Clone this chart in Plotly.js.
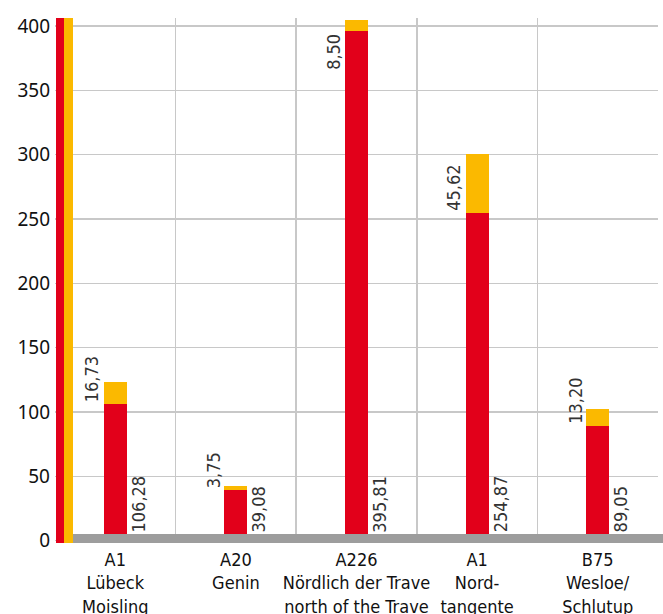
<!DOCTYPE html>
<html><head><meta charset="utf-8">
<script src="https://cdn.plot.ly/plotly-3.0.1.min.js"></script>
<style>html,body{margin:0;padding:0;background:#fff}#chart{width:663px;height:614px}</style>
</head><body><div id="chart"></div>
<script>
const categories = ["A1<br>Lübeck<br>Moisling", "A20<br>Genin", "A226<br>Nördlich der Trave<br>north of the Trave", "A1<br>Nord-<br>tangente", "B75<br>Wesloe/<br>Schlutup"];
const redValues = [106.28, 39.08, 395.81, 254.87, 89.05];
const yellowValues = [16.73, 3.75, 8.50, 45.62, 13.20];
const yTicks = [0, 50, 100, 150, 200, 250, 300, 350, 400];

const RED = '#e2001a', YEL = '#fbb900', GRAY = '#9d9d9d';
const valFont = {family: 'Liberation Sans Narrow, DejaVu Sans Condensed, sans-serif', size: 18, color: '#333'};
const fmt = v => v.toFixed(2).replace('.', ',');

const traces = [
  {type: 'bar', x: categories, y: redValues, marker: {color: RED}, width: 0.19, hoverinfo: 'skip'},
  {type: 'bar', x: categories, y: yellowValues, marker: {color: YEL}, width: 0.19, hoverinfo: 'skip'}
];

const annotations = [];
categories.forEach((c, i) => {
  annotations.push({x: c, y: 0, xref: 'x', yref: 'y', text: fmt(redValues[i]), textangle: -90,
    showarrow: false, xanchor: 'center', yanchor: 'bottom', xshift: 23, yshift: 6, font: valFont});
  const top = redValues[i] + yellowValues[i] > 380;
  annotations.push({x: c, y: redValues[i], xref: 'x', yref: 'y', text: fmt(yellowValues[i]), textangle: -90,
    showarrow: false, xanchor: 'center', yanchor: top ? 'top' : 'bottom', xshift: -23, yshift: top ? -1 : 0, font: valFont});
});

const shapes = [
  {type: 'rect', layer: 'above', xref: 'paper', yref: 'y', x0: 0.025, x1: 1.02, y0: -1.8, y1: 5.2, fillcolor: GRAY, line: {width: 0}},
  {type: 'rect', layer: 'above', xref: 'paper', xsizemode: 'pixel', xanchor: 0, yref: 'y', x0: 1, x1: 9, y0: -1.8, y1: 406.2, fillcolor: RED, line: {width: 0}},
  {type: 'rect', layer: 'above', xref: 'paper', xsizemode: 'pixel', xanchor: 0, yref: 'y', x0: 9, x1: 18, y0: -1.8, y1: 406.2, fillcolor: YEL, line: {width: 0}}
];

const layout = {
  width: 663, height: 614,
  margin: {l: 55, r: 5, t: 18, b: 71},
  paper_bgcolor: '#fff', plot_bgcolor: '#fff',
  barmode: 'stack', showlegend: false, hovermode: false,
  bargap: 0,
  xaxis: {type: 'category', range: [-0.5, 4.5], tickson: 'boundaries', showgrid: true, gridcolor: '#c8c8c8', gridwidth: 1.5,
    ticks: '', showline: false, zeroline: false, fixedrange: true, tickangle: 0, automargin: false, ticklabelstandoff: 4,
    tickfont: {family: 'Liberation Sans Narrow, DejaVu Sans Condensed, sans-serif', size: 18, color: '#111'}},
  yaxis: {range: [-1.8, 406.2], tickvals: yTicks, ticktext: yTicks.map(String), showgrid: true, gridcolor: '#c8c8c8', gridwidth: 1.5,
    zeroline: false, ticks: '', showline: false, fixedrange: true, ticklabelstandoff: 4,
    tickfont: {family: 'Noto Sans, sans-serif', size: 19, color: '#111'}},
  annotations: annotations,
  shapes: shapes
};

Plotly.newPlot('chart', traces, layout, {displayModeBar: false, staticPlot: true});
</script></body></html>
